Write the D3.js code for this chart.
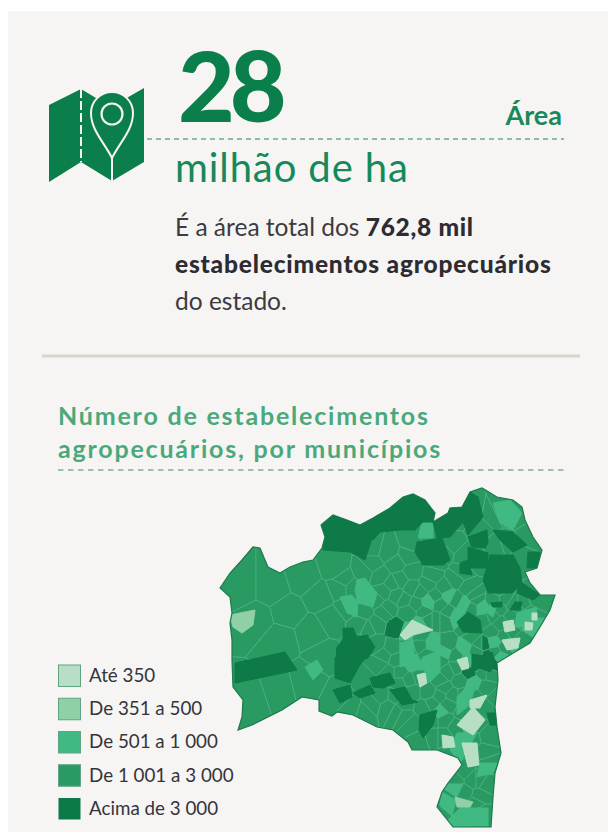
<!DOCTYPE html>
<html>
<head>
<meta charset="utf-8">
<script src="https://cdn.jsdelivr.net/npm/d3@7"></script>
<style>
    html, body { margin: 0; padding: 0; background: #fff; }
    svg { display: block; }
    text { font-family: Lato, sans-serif; }
</style>
</head>
<body>
<svg id="chart" width="608" height="835"></svg>
<script>
// Legend
const legendLabels = ["Até 350", "De 351 a 500", "De 501 a 1 000", "De 1 001 a 3 000", "Acima de 3 000"];
const legendColors = ["#b8dfc6", "#8fd0a7", "#41b982", "#2a9a64", "#0b7a46"];

const stateOutline = [
    [0,50],[5,42.5],[11,36],[16.5,29.5],[20,30],[22.5,36],[24,39.5],[30,42.5],[35,39.5],[41.5,37],[46.5,36],
    [51,30],[52.5,24.5],[50.5,18.5],[56.5,13.5],[63.5,16],[70,18.5],[76.5,15],[85,10],[91.5,4.5],[96.5,3],
    [102.5,6],[107.5,12.5],[106.5,17],[114,12.5],[115,10],[121,9.5],[125,2],[131,0],[138.5,4.5],[146.5,6],
    [151,9.5],[152.5,16],[156.5,24.5],[161,31],[158.5,40],[152.5,42],[155,47.5],[160,53.5],[167.5,53.5],
    [165,61],[160,69.5],[155,77.5],[145,83.5],[138.5,87.5],[139,96],[137.5,109.5],[138.5,119.5],[140.5,132.5],
    [137.5,142.5],[136.5,154.5],[135.5,169.5],[116.5,169.5],[108.5,159.5],[111,152],[114,147.5],[121,138.5],
    [119,135],[108.5,131],[96,131],[94,127],[86.5,121],[78.5,119.5],[66.5,113.5],[58.5,112],[56,114],
    [49.5,111.5],[49.5,106],[41,104.5],[31,111],[16,118.5],[9,121],[11,114.5],[11.5,106],[6.5,99.5],[6,86],
    [6,76],[5,67.5],[6,62.5],[5,54.5]
];

// Municipality seats with their class (index into legendLabels)
const seats = [
    [10,50,3],[26,50,3],[42,45,3],[58,40,3],[18,66,3],[34,62,3],[50,54,3],[30,76,3],[46,72,3],[56,66,3],
    [16,104,3],[28,100,3],[44,96,3],[52,84,3],[60,50,3],[72,42,3],[84,32,3],[96,42,3],[86,48,3],[92,56,3],
    [84,60,3],[78,68,3],[72,62,3],[100,52,3],[106,44,3],[112,50,3],[118,46,3],[124,50,3],[118,56,3],[110,58,3],
    [102,62,3],[94,62,3],[86,80,3],[80,88,3],[76,108,3],[84,110,3],[66,110,3],[92,114,3],[100,126,3],[110,104,3],
    [104,102,3],[96,88,2],[88,104,3],[114,92,3],[122,80,2],[114,78,3],[106,78,2],[100,68,2],[130,78,3],[136,72,3],
    [128,56,3],[140,60,3],[146,58,3],[152,58,3],[158,56,3],[150,76,3],[138,82,3],[128,88,3],[134,92,3],[120,96,3],
    [112,116,3],[106,124,3],[114,136,3],[132,100,3],[134,124,3],[132,132,3],[126,146,3],[118,146,3],[130,154,3],[122,152,3],
    [114,156,3],[126,164,3],[130,162,3],[76,30,3],[94,34,3],[104,30,3],[116,28,3],[122,34,3],[136,14,3],[130,20,3],
    [148,14,3],[154,24,3],[138,30,3],[150,34,3],[118,14,3],[96,28,3],[88,38,3],[78,56,3],[70,78,3],[82,84,3],
    [90,92,3],[108,66,3],[114,62,3],[126,60,3],[132,66,3],[146,64,3],[142,74,3],[134,84,4],[126,74,3],[110,86,3],
    [94,96,3],[102,110,3],[116,104,3],[122,112,3],[128,118,3],[110,96,3],[140,50,3],[124,92,4],[132,78,4],[142,80,3],
    [136,88,4],[138,106,3],[128,104,3],[88,70,4],
    // denser part of the state, east of the centre
    [80,44,3],[90,46,3],[96,50,3],[104,48,3],[108,54,3],[114,54,2],[121,42,3],[127,54,3],[131,60,2],[137,57,3],
    [143,56,3],[149,60,3],[155,62,3],[98,58,3],[104,57,2],[112,66,3],[118,64,2],[122,58,2],[124,70,3],[136,64,3],
    [140,68,3],[150,66,3],[155,68,2],[146,72,3],[137,77,2],[140,84,2],[144,78,2],[128,82,3],[124,86,2],[118,84,3],
    [112,82,2],[104,84,3],[100,78,3],[94,80,3],[88,86,3],[84,92,3],[90,98,3],[96,102,3],[100,94,3],[106,92,2],
    [112,100,3],[118,90,3],[106,108,3],[114,108,3],[110,112,2],[118,120,3],[106,116,3],[112,124,3],[96,118,3],[88,112,3],
    [80,104,3],[72,96,3],[78,78,3],[74,70,3],[82,62,3],[88,54,3],[94,72,2],[100,74,3],[132,92,3],[127,98,2],
    [122,104,3],[134,110,3],[126,126,3],[134,138,3],[130,146,3],[122,142,3],[118,150,2],[133,148,3],[128,158,3],[120,166,2],
    [114,160,3],[116,132,3],[76,38,3],[82,52,3],[66,50,3],[64,60,3],[70,68,3],[62,46,3],[108,36,3],[112,32,3],
    [128,36,3],[140,38,3],[144,28,3],[126,12,3],[140,12,3],[104,66,3],[92,108,3],[124,118,2],[72,112,3],[60,104,3]
];

// Large municipalities that stand out in each class
const acima3000 = [
    [[50.5,18.5],[56.5,13.5],[70,18.5],[76.5,23.5],[72.5,36],[65,32],[51.5,31],[52.5,24.5]],
    [[70,18.5],[85,10],[91.5,4.5],[96.5,3],[102.5,6],[107.5,12.5],[106.5,17],[101.5,17],[97.5,21],[90,21],[80,22],[76.5,26]],
    [[108.5,25],[106.5,17],[115,10],[121.5,8.5],[125,2],[129,4.5],[131.5,14.5],[124,23.5],[121.5,17],[115,24.5]],
    [[98.5,27],[111,25],[115,36],[111.5,38.5],[101.5,38.5],[97.5,32]],
    [[124,24.5],[133.5,21],[134,27.5],[132.5,30],[126,29.5]],
    [[136.5,21],[146.5,22],[153.5,28.5],[146.5,32],[140,26]],
    [[124,29.5],[134,32.5],[134,40],[125,40],[124,35]],
    [[135,33.5],[146.5,33.5],[150,40],[151,47.5],[146,52.5],[134,52.5],[131.5,46],[133.5,39.5]],
    [[149,46],[160,53.5],[156.5,56],[148.5,52.5]],
    [[154,32],[160,32],[158.5,40],[153.5,40]],
    [[120,37.5],[124,36],[126,43.5],[120,42.5]],
    [[118.5,67],[124,62],[130,66],[131,72.5],[121.5,72]],
    [[61.5,70],[66.5,70],[68.5,74.5],[73.5,73.5],[77.5,79.5],[74,85],[69,86],[65,91],[57.5,91],[58.5,79.5],[61.5,76]],
    [[57.5,85],[76,81],[70,88.5],[65,97.5],[57.5,95]],
    [[56.5,101],[65,98.5],[66,104.5],[60,107.5]],
    [[66.5,102.5],[75,98.5],[77.5,102.5],[70,105]],
    [[75,95],[85,92.5],[87.5,97.5],[81.5,100],[76.5,99.5]],
    [[85,101],[92.5,99.5],[96,106],[99,107],[91,108.5]],
    [[100,113.5],[108.5,111],[106.5,118.5],[101.5,125],[99.5,121]],
    [[7.5,87.5],[32.5,82],[38.5,91],[7.5,97.5]],
    [[85,66],[90,70],[87.5,75],[82.5,73.5]],
    [[133.5,112.5],[138.5,112.5],[138.5,118.5],[135,118.5]],
    [[126,83],[132,84],[136,82],[138,88],[135,92],[130,90],[126,92]],
    [[135,57.5],[141,57],[141,59.5],[136.5,59.5]],
    [[147.5,57],[151,57],[150,61],[145,61]]
];
const de501a1000 = [
    [[68.5,46],[72.5,45],[78.5,52.5],[76.5,59.5],[69,57.5],[67.5,51]],
    [[60,54.5],[66,53.5],[69,57.5],[68.5,64.5],[63.5,62.5]],
    [[101,17],[106.5,17],[106.5,25],[99,25]],
    [[136.5,7.5],[145,6],[151,12.5],[146.5,21],[140,17.5]],
    [[90,77.5],[96.5,76],[97.5,87.5],[90,89.5]],
    [[101.5,84.5],[110,81],[110,91],[98.5,91]],
    [[42.5,89.5],[48.5,86],[51.5,91],[46.5,96]],
    [[118.5,104.5],[125,97.5],[128.5,96],[125,108.5],[118.5,113.5]],
    [[130,137.5],[138.5,137.5],[136.5,142.5],[128.5,144.5]],
    [[118.5,122.5],[128.5,122.5],[120,137.5],[115,131]],
    [[135,57.5],[138.5,58.5],[136.5,64.5],[133.5,62.5]],
    [[148.5,62.5],[158.5,59.5],[157.5,69.5],[147.5,69.5]],
    [[111,152],[118,156],[116,164],[110,159]],
    [[122,160],[134,160],[134,169],[118,169]]
];
const de351a500 = [
    [[5,63.5],[17.5,61],[16.5,68.5],[11,72.5],[6.5,69.5]],
    [[117.5,154.5],[126.5,157],[125,159.5],[118.5,159.5]]
];
const ate350 = [
    [[118.5,118.5],[126.5,109.5],[132.5,116],[126.5,123.5]],
    [[125,106],[133.5,103.5],[130,110],[125,110]],
    [[121,127.5],[128.5,127.5],[129.5,138.5],[124,139.5]],
    [[111,123.5],[116.5,124.5],[117.5,129.5],[111.5,130]],
    [[98.5,93.5],[102.5,92.5],[103.5,97.5],[100,99.5]],
    [[118.5,86],[123.5,84.5],[124.5,90],[121,91]],
    [[141,76],[150,75],[149,80],[143.5,81]],
    [[141.5,67],[146.5,66],[147.5,71],[142.5,72]],
    [[156,62.5],[158.5,62.5],[158.5,66],[156,66]],
    [[152.5,67],[156.5,67.5],[156,71],[152.5,71]],
    [[90,73.5],[96,66],[106.5,71],[96.5,73.5],[92.5,76]]
];

const background = "#f6f5f3";
const green = "#0b7f4b";
const dashGreen = "#8dbda4";

const svg = d3.select("#chart");

svg.append("rect")
    .attr("x", 8)
    .attr("y", 11)
    .attr("width", 600)
    .attr("height", 821)
    .attr("fill", background);

// Map
const xScale = d3.scaleLinear().domain([0, 168]).range([220, 556]);
const yScale = d3.scaleLinear().domain([0, 170]).range([488, 828]);
const colorScale = d3.scaleOrdinal().domain(d3.range(5)).range(legendColors);

const shapeLine = d3.line()
    .x(d => xScale(d[0]))
    .y(d => yScale(d[1]))
    .curve(d3.curveLinearClosed);

const defs = svg.append("defs");
defs.append("clipPath")
    .attr("id", "state-clip")
    .append("path")
    .attr("d", shapeLine(stateOutline));
defs.append("filter")
    .attr("id", "soft")
    .append("feGaussianBlur")
    .attr("stdDeviation", 0.6);

const map = svg.append("g").attr("filter", "url(#soft)");
const mapInner = map.append("g").attr("clip-path", "url(#state-clip)");

const voronoi = d3.Delaunay
    .from(seats, d => xScale(d[0]), d => yScale(d[1]))
    .voronoi([200, 470, 580, 835]);

mapInner.selectAll(".seat")
    .data(seats)
    .join("path")
    .attr("class", "seat")
    .attr("d", (d, i) => voronoi.renderCell(i))
    .attr("fill", d => colorScale(d[2]))
    .attr("stroke", "#4db083")
    .attr("stroke-width", 0.7);

const classGroups = [
    { shapes: de501a1000, cls: 2 },
    { shapes: de351a500, cls: 1 },
    { shapes: ate350, cls: 0 },
    { shapes: acima3000, cls: 4 }
];
classGroups.forEach(group => {
    mapInner.append("g")
        .selectAll("path")
        .data(group.shapes)
        .join("path")
        .attr("d", shapeLine)
        .attr("fill", colorScale(group.cls))
        .attr("stroke", colorScale(group.cls))
        .attr("stroke-width", 1)
        .attr("stroke-linejoin", "round");
});

map.append("path")
    .attr("d", shapeLine(stateOutline))
    .attr("fill", "none")
    .attr("stroke", "#1b7a4c")
    .attr("stroke-width", 1.2);

// Legend
const legendY = d3.scaleBand()
    .domain(legendLabels)
    .range([665, 819.5])
    .paddingInner(0.353)
    .paddingOuter(0);

const legend = svg.append("g");
legend.selectAll("rect")
    .data(legendLabels)
    .join("rect")
    .attr("x", 58.5)
    .attr("y", d => legendY(d))
    .attr("width", 22)
    .attr("height", legendY.bandwidth())
    .attr("fill", (d, i) => legendColors[i])
    .attr("stroke", (d, i) => i === 4 ? "none" : "#5fa582")
    .attr("stroke-width", 1);
legend.selectAll("text")
    .data(legendLabels)
    .join("text")
    .attr("x", 89)
    .attr("y", d => legendY(d) + 17)
    .attr("font-size", 18.8)
    .attr("fill", "#34343a")
    .text(d => d);

// Heading block
svg.append("text")
    .attr("x", 178)
    .attr("y", 122)
    .attr("font-size", 98)
    .attr("font-weight", 900)
    .attr("letter-spacing", -5)
    .attr("fill", green)
    .text("28");

svg.append("text")
    .attr("x", 562)
    .attr("y", 125)
    .attr("text-anchor", "end")
    .attr("font-size", 27)
    .attr("font-weight", 700)
    .attr("fill", "#18895a")
    .text("Área");

svg.append("line")
    .attr("x1", 147)
    .attr("x2", 564)
    .attr("y1", 139)
    .attr("y2", 139)
    .attr("stroke", dashGreen)
    .attr("stroke-width", 2)
    .attr("stroke-dasharray", "5 4");

svg.append("text")
    .attr("x", 175)
    .attr("y", 182)
    .attr("font-size", 40)
    .attr("letter-spacing", 0.9)
    .attr("fill", "#14895a")
    .text("milhão de ha");

// Description
const description = svg.append("g")
    .attr("font-size", 24.5)
    .attr("fill", "#3b3b40");
description.append("text")
    .attr("x", 175)
    .attr("y", 236)
    .call(t => t.append("tspan").text("É a área total dos "))
    .call(t => t.append("tspan").attr("font-weight", 900).attr("letter-spacing", 0.7).attr("fill", "#2c2c32").text("762,8 mil"));
description.append("text")
    .attr("x", 175)
    .attr("y", 273)
    .attr("font-weight", 900)
    .attr("letter-spacing", 0.8)
    .attr("fill", "#2c2c32")
    .text("estabelecimentos agropecuários");
description.append("text")
    .attr("x", 175)
    .attr("y", 310)
    .text("do estado.");

svg.append("line")
    .attr("x1", 42)
    .attr("x2", 580)
    .attr("y1", 356)
    .attr("y2", 356)
    .attr("stroke", "#d8d6ca")
    .attr("stroke-width", 3);

// Section title
const sectionTitle = svg.append("g")
    .attr("font-size", 25)
    .attr("font-weight", 700)
    .attr("letter-spacing", 1.8)
    .attr("fill", "#4aa97c");
sectionTitle.append("text").attr("x", 58).attr("y", 425).text("Número de estabelecimentos");
sectionTitle.append("text").attr("x", 58).attr("y", 458).text("agropecuários, por municípios");

svg.append("line")
    .attr("x1", 58)
    .attr("x2", 566)
    .attr("y1", 470)
    .attr("y2", 470)
    .attr("stroke", "#9cc0ad")
    .attr("stroke-width", 2)
    .attr("stroke-dasharray", "5.5 4.5");

// Map pin icon
const icon = svg.append("g").attr("fill", green);
icon.append("path").attr("d", "M49,105 L81,89 L111,107 L144,88 L144,162 L112,181 L81,162 L49,182 Z");
icon.append("line")
    .attr("x1", 81)
    .attr("x2", 81)
    .attr("y1", 89)
    .attr("y2", 162)
    .attr("stroke", background)
    .attr("stroke-width", 2)
    .attr("stroke-dasharray", "9 3");
icon.append("line")
    .attr("x1", 112)
    .attr("x2", 112)
    .attr("y1", 158)
    .attr("y2", 182)
    .attr("stroke", background)
    .attr("stroke-width", 2);
icon.append("path")
    .attr("d", "M112,158 C104,142 91,130 91,113 A21,21 0 0 1 133,113 C133,130 120,142 112,158 Z")
    .attr("stroke", background)
    .attr("stroke-width", 2);
icon.append("circle")
    .attr("cx", 112)
    .attr("cy", 114)
    .attr("r", 10.5)
    .attr("fill", "none")
    .attr("stroke", background)
    .attr("stroke-width", 2.2);
</script>
</body>
</html>
